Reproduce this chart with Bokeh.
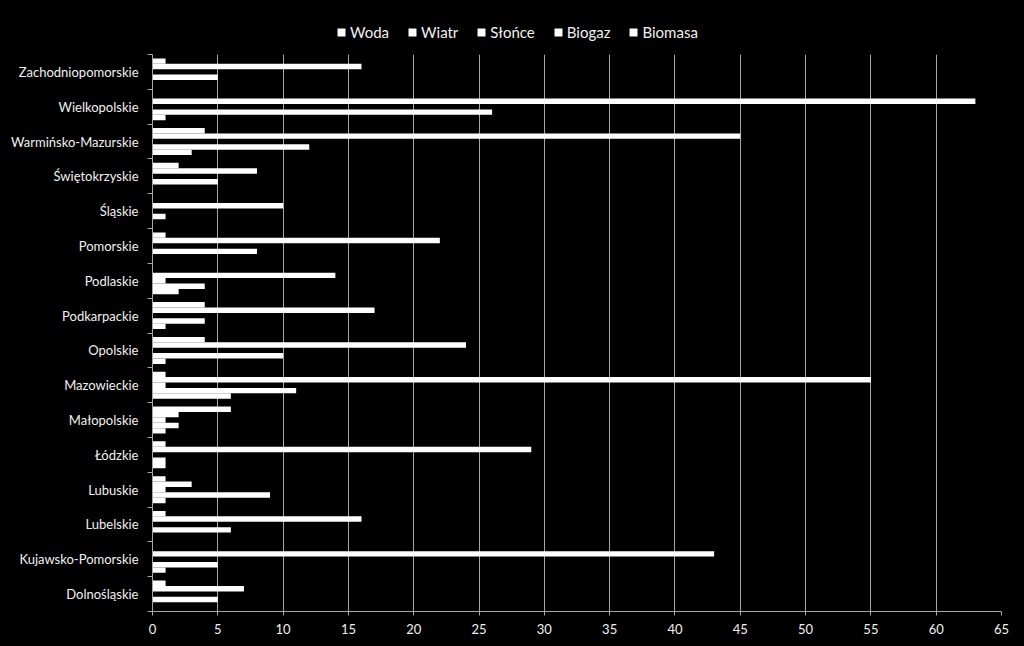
from bokeh.plotting import figure
from bokeh.layouts import column
from bokeh.models import (Range1d, FixedTicker, SingleIntervalTicker, Legend,
                          LegendItem, ColumnDataSource)
from bokeh.transform import dodge
from bokeh.embed import file_html
from bokeh.resources import INLINE

# Categories from bottom to top (alphabetical, as in the source sheet)
regions = ["Dolnośląskie", "Kujawsko-Pomorskie", "Lubelskie", "Lubuskie",
           "Łódzkie", "Małopolskie", "Mazowieckie", "Opolskie", "Podkarpackie",
           "Podlaskie", "Pomorskie", "Śląskie", "Świętokrzyskie",
           "Warmińsko-Mazurskie", "Wielkopolskie", "Zachodniopomorskie"]

series_names = ["Woda", "Wiatr", "Słońce", "Biogaz", "Biomasa"]

woda    = [0, 1, 0, 1, 1, 1, 6, 1, 1, 2, 0, 0, 0, 3, 1, 0]
wiatr   = [5, 5, 6, 9, 1, 2, 11, 10, 4, 4, 8, 1, 5, 12, 26, 5]
slonce  = [0, 0, 0, 1, 0, 1, 1, 0, 0, 1, 0, 0, 0, 0, 0, 0]
biogaz  = [7, 43, 16, 3, 29, 2, 55, 24, 17, 14, 22, 10, 8, 45, 63, 16]
biomasa = [1, 0, 1, 1, 1, 6, 1, 4, 4, 0, 1, 0, 2, 4, 0, 1]

x_ticks_step = 5
x_max = 65

FONT = "Lato"
GREY = "#a6a6a6"
TXT = "#f0f0f0"

idx = list(range(len(regions)))
src = ColumnDataSource(dict(yi=idx, Woda=woda, Wiatr=wiatr, Slonce=slonce,
                            Biogaz=biogaz, Biomasa=biomasa))
cols = ["Woda", "Wiatr", "Slonce", "Biogaz", "Biomasa"]

# ---------------- main chart ----------------
p = figure(width=1024, height=592, output_backend="svg", toolbar_location=None,
           x_range=Range1d(0, x_max), y_range=Range1d(-0.5, len(regions) - 0.5),
           min_border_left=152, min_border_right=23, min_border_top=0,
           min_border_bottom=35)
p.background_fill_color = "black"
p.border_fill_color = "black"
p.outline_line_color = None

bw = 0.155
for k, c in enumerate(cols):
    p.hbar(y=dodge("yi", (k - 2) * bw, range=p.y_range), left=0, right=c,
           height=bw, source=src, fill_color="white", line_color=None)

# x axis
p.xaxis.ticker = SingleIntervalTicker(interval=x_ticks_step, num_minor_ticks=0)
p.xaxis.axis_line_color = GREY
p.xaxis.major_tick_line_color = GREY
p.xaxis.major_tick_out = 4
p.xaxis.major_tick_in = 0
p.xaxis.minor_tick_line_color = None
p.xaxis.major_label_text_color = TXT
p.xaxis.major_label_text_font = FONT
p.xaxis.major_label_text_font_size = "13px"
p.xaxis.major_label_standoff = 8

# y axis
p.yaxis.ticker = FixedTicker(ticks=idx, minor_ticks=[i - 0.5 for i in range(len(regions) + 1)])
p.yaxis.major_label_overrides = {i: n for i, n in enumerate(regions)}
p.yaxis.axis_line_color = GREY
p.yaxis.major_tick_line_color = None
p.yaxis.major_tick_out = 0
p.yaxis.major_tick_in = 0
p.yaxis.minor_tick_line_color = GREY
p.yaxis.minor_tick_out = 5
p.yaxis.minor_tick_in = 0
p.yaxis.major_label_text_color = TXT
p.yaxis.major_label_text_font = FONT
p.yaxis.major_label_text_font_size = "13px"
p.yaxis.major_label_standoff = 9

p.ygrid.visible = False
p.xgrid.grid_line_color = GREY
p.xgrid.grid_line_width = 1

# ---------------- legend strip ----------------
lg = figure(width=1024, height=54, output_backend="svg", toolbar_location=None,
            x_range=Range1d(0, 1), y_range=Range1d(0, 1),
            min_border_left=152, min_border_right=23, min_border_top=0,
            min_border_bottom=0)
lg.background_fill_color = "black"
lg.border_fill_color = "black"
lg.outline_line_color = None
lg.axis.visible = False
lg.grid.visible = False

nan = float("nan")
swatches = [lg.hbar(y=[nan], right=[nan], height=1, fill_color="white", line_color=None)
            for _ in series_names]

legend = Legend(items=[LegendItem(label=n, renderers=[r]) for n, r in zip(series_names, swatches)],
                orientation="horizontal", location=(184, 13))
legend.background_fill_alpha = 0
legend.border_line_alpha = 0
legend.label_text_color = TXT
legend.label_text_font = FONT
legend.label_text_font_size = "15px"
legend.glyph_width = 10
legend.glyph_height = 10
legend.label_standoff = 4
legend.spacing = 18
legend.padding = 0
legend.margin = 0
lg.add_layout(legend, "center")

layout = column(lg, p, spacing=0)
layout.styles = {"background-color": "black"}

open("out.html", "w").write(file_html(layout, INLINE))
